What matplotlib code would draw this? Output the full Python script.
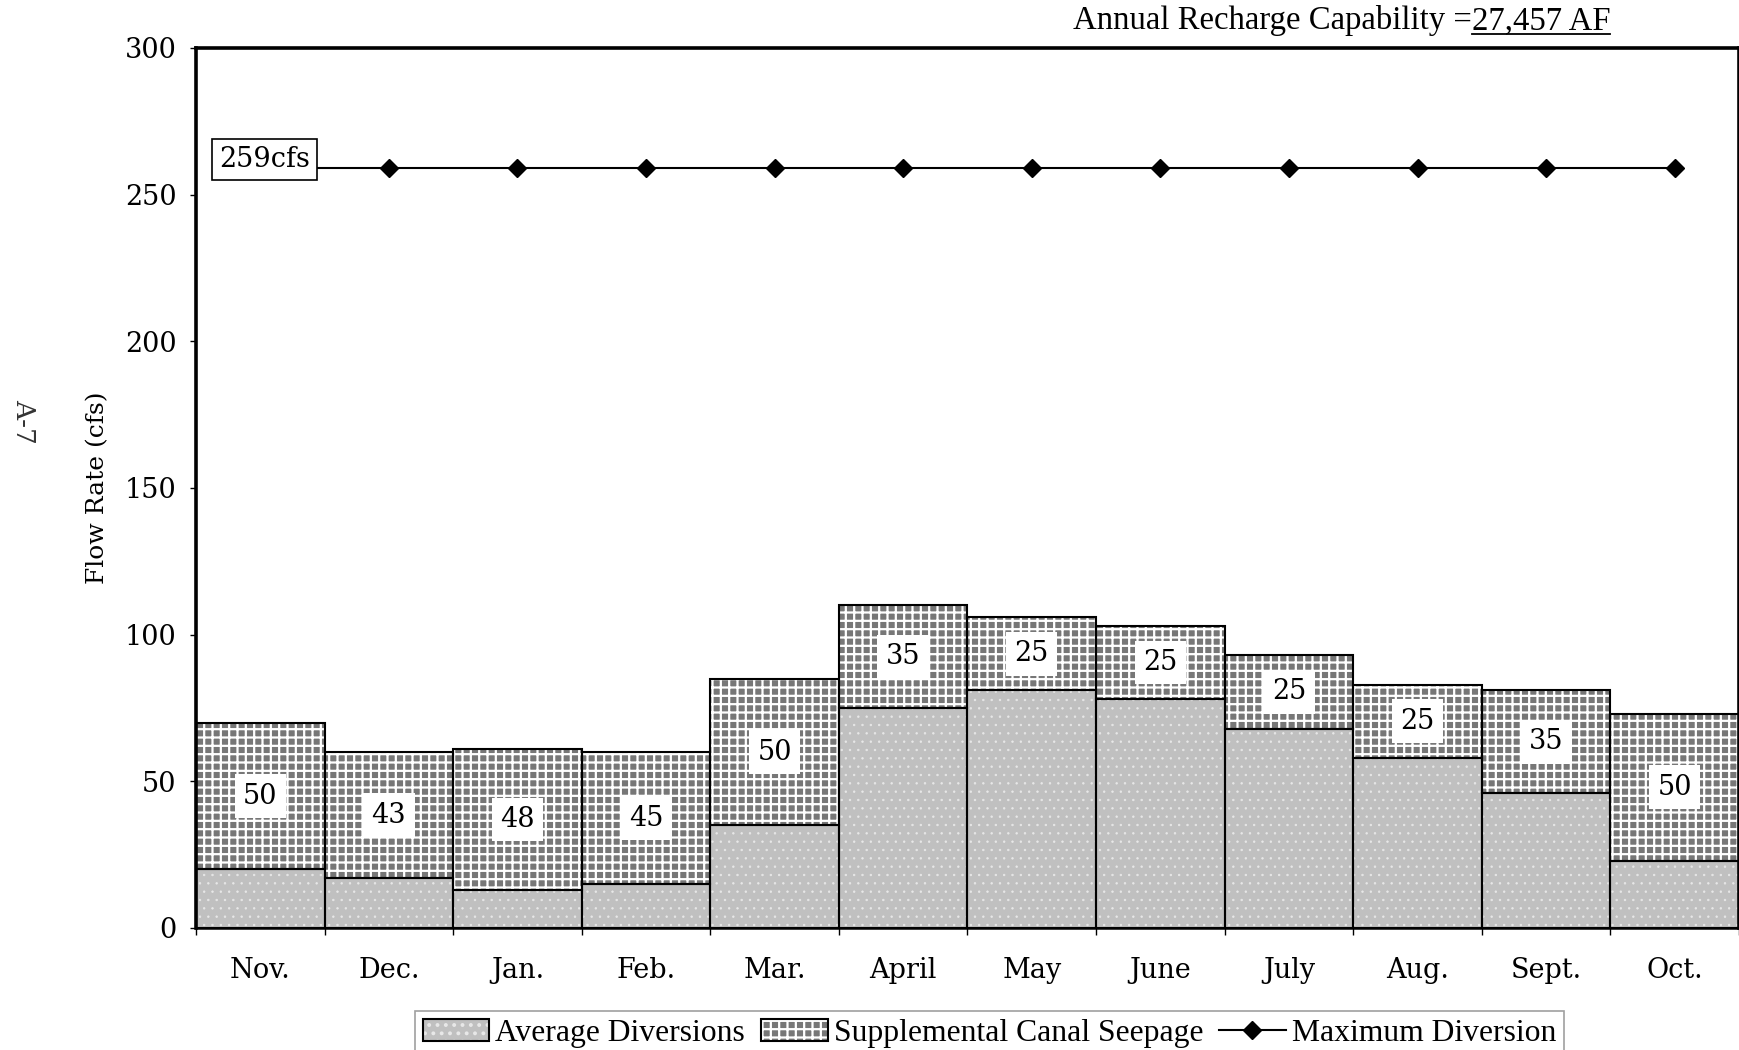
import matplotlib
matplotlib.use("Agg")
import matplotlib.pyplot as plt
from matplotlib.patches import Patch
from matplotlib.lines import Line2D
import numpy as np

months = ["Nov.", "Dec.", "Jan.", "Feb.", "Mar.", "April",
          "May", "June", "July", "Aug.", "Sept.", "Oct."]
average_diversions = [20, 17, 13, 15, 35, 75, 81, 78, 68, 58, 46, 23]
canal_seepage = [50, 43, 48, 45, 50, 35, 25, 25, 25, 25, 35, 50]
maximum_diversion = [259, 259, 259, 259, 259, 259, 259, 259, 259, 259, 259, 259]
y_ticks = [0, 50, 100, 150, 200, 250, 300]

AVG_FACE = "#c0c0c0"
SEEP_FACE = "#777777"
DOT = "#e8e8e8"
W, H = 1739, 1050

plt.rcParams["font.family"] = ["DejaVu Serif"]

fig = plt.figure(figsize=(W / 100, H / 100), dpi=100)
ax = fig.add_axes([196 / W, 1 - 928 / H, 1 - 196 / W, (928 - 48) / H])

x = np.arange(len(months))
bottom_top = np.array(average_diversions)

# hatched fills (light hatch), then black outlines on top
plt.rcParams["hatch.linewidth"] = 0.5
ax.bar(x, average_diversions, width=1.0, color=AVG_FACE, edgecolor=DOT,
       hatch="..", linewidth=0, zorder=2)
plt.rcParams["hatch.linewidth"] = 1.6
ax.bar(x, canal_seepage, bottom=bottom_top, width=1.0, color=SEEP_FACE,
       edgecolor="white", hatch="++", linewidth=0, zorder=2)
ax.bar(x, average_diversions, width=1.0, fill=False, edgecolor="black",
       linewidth=1.5, zorder=3)
ax.bar(x, canal_seepage, bottom=bottom_top, width=1.0, fill=False,
       edgecolor="black", linewidth=1.5, zorder=3)

for i, (a, s) in enumerate(zip(average_diversions, canal_seepage)):
    ax.text(i, a + s / 2, str(s), ha="center", va="center", fontsize=19.5,
            zorder=5, bbox=dict(facecolor="white", edgecolor="none", pad=6))

ax.plot(x, maximum_diversion, color="black", linewidth=1.5, marker="D",
        markersize=9, zorder=4)
ax.text(0.03, 262, "259cfs", ha="center", va="center", fontsize=19.5, zorder=6,
        bbox=dict(facecolor="white", edgecolor="black", linewidth=1.2, pad=5))

ax.set_xlim(-0.5, 11.5)
ax.set_ylim(0, 300)
ax.set_yticks(y_ticks)
ax.set_xticks(x)
ax.set_xticklabels(months)
ax.set_xticks(np.arange(-0.5, 12, 1.0), minor=True)
ax.tick_params(axis="x", which="major", length=0, pad=21, labelsize=19.5)
ax.tick_params(axis="x", which="minor", length=5, width=1, direction="out")
ax.tick_params(axis="y", length=4, width=1, direction="out", pad=10, labelsize=19.5)

for side in ["left", "top", "right"]:
    ax.spines[side].set_linewidth(2.6)
ax.spines["bottom"].set_linewidth(1.8)

fig.text(98 / W, 1 - 488 / H, "Flow Rate (cfs)", rotation=90, ha="center",
         va="center", fontsize=18)
fig.text(24 / W, 1 - 421 / H, "A-7", rotation=270, ha="center", va="center",
         fontsize=19, color="#333333")

# title with underlined value
title_y = 1 - 29 / H
t1 = fig.text(1073 / W, title_y, "Annual Recharge Capability =", ha="left",
              va="baseline", fontsize=23.6, family="Liberation Serif")
fig.canvas.draw()
bb1 = t1.get_window_extent()
t2 = fig.text(bb1.x1 / W, title_y, "27,457 AF", ha="left", va="baseline",
              fontsize=23.6, family="Liberation Serif")
fig.canvas.draw()
bb2 = t2.get_window_extent()
uy = title_y - 5 / H
fig.add_artist(Line2D([bb2.x0 / W, bb2.x1 / W], [uy, uy], color="black",
                      linewidth=1.3, transform=fig.transFigure))

plt.rcParams["hatch.linewidth"] = 0.5
h_avg = (Patch(facecolor=AVG_FACE, edgecolor=DOT, hatch="..", linewidth=0),
         Patch(fill=False, edgecolor="black", linewidth=1.5))
plt.rcParams["hatch.linewidth"] = 1.6
h_seep = (Patch(facecolor=SEEP_FACE, edgecolor="white", hatch="++", linewidth=0),
          Patch(fill=False, edgecolor="black", linewidth=1.5))
h_max = Line2D([], [], color="black", linewidth=1.5, marker="D", markersize=9)
leg = fig.legend([h_avg, h_seep, h_max],
                 ["Average Diversions", "Supplemental Canal Seepage", "Maximum Diversion"],
                 loc="lower center", bbox_to_anchor=(0.569, -0.015), ncol=3,
                 frameon=True, fancybox=False, edgecolor="#888888",
                 prop={"family": "Liberation Serif", "size": 22.8},
                 handlelength=2.1, handleheight=0.7, handletextpad=0.2,
                 columnspacing=0.5, borderpad=0.25, borderaxespad=0.3)
leg.get_frame().set_linewidth(1.2)

fig.savefig("out.png", dpi=100)
